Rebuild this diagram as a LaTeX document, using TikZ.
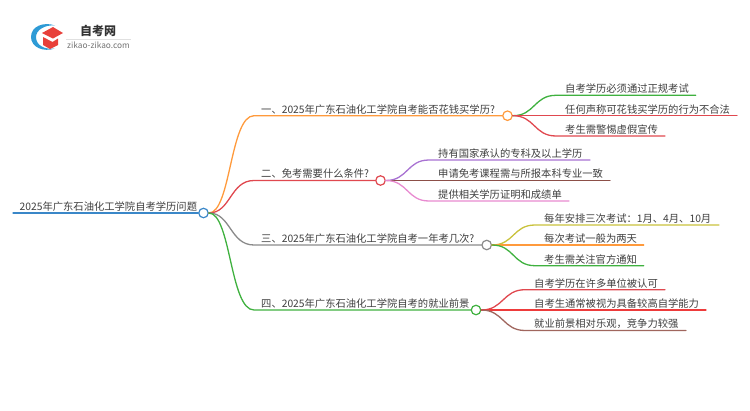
\documentclass[tikz,border=0pt]{standalone}
\usepackage{fontspec}
\setmainfont{Noto Sans CJK SC}
\definecolor{txt}{HTML}{3E3E3E}
\definecolor{cblue}{HTML}{3A87C8}
\definecolor{corange}{HTML}{FF9A3C}
\definecolor{cred}{HTML}{E0484F}
\definecolor{cgray}{HTML}{8A8A8A}
\definecolor{cgreen}{HTML}{3FB13F}
\definecolor{cpurple}{HTML}{A872D2}
\definecolor{cbrown}{HTML}{8C4F48}
\definecolor{cpink}{HTML}{E88AD0}
\definecolor{colive}{HTML}{C9C23C}
\definecolor{cbright}{HTML}{EE3B3B}
\definecolor{ctan}{HTML}{A0665E}
\definecolor{logoblue}{HTML}{2E9BD6}
\definecolor{logored}{HTML}{E8403A}
\tikzset{
  x=1pt,y=-1pt,
  lbl/.style={anchor=base west,inner sep=0pt,font=\fontsize{10.3}{12}\selectfont,text=txt},
  hub/.style={circle,draw=#1,fill=white,line width=1.2pt,minimum size=9.5pt,inner sep=0pt},
  wire/.style={draw=#1,line width=1.3pt,line cap=round},
}
\begin{document}
\begin{tikzpicture}
\useasboundingbox (0,0) rectangle (750,410);
% logo
\fill[logoblue] (55,25.5) .. controls (44,21.5) and (31,26) .. (31,37) .. controls (31,47) and (43,52.5) .. (55,48.5) .. controls (44,50) and (36,45) .. (36,37) .. controls (36,30) and (45,24.5) .. (55,25.5) -- cycle;
\fill[logored] (53,27) -- (63,33) -- (53,38.5) -- (42,33) -- cycle;
\fill[logored] (43,37) -- (52.5,42) -- (58,38.5) -- (58,45) -- (50,49) -- (43,45) -- cycle;
\node[inner sep=0pt,font=\fontsize{12}{13}\selectfont\bfseries,text=black!80] (brand) at (98,31) {自考网};
\node[inner sep=0pt,font=\fontsize{8.3}{9}\selectfont,text=black!55] (site) at (98.5,45) {zikao-zikao.com};
\draw[black!12,line width=.6pt] (66,39) -- (131,39);
% hubs
\node[hub=cblue] (root) at (203.5,213) {};
\node[hub=corange] (n1) at (507.5,115.7) {};
\node[hub=cred] (n2) at (380.5,180.5) {};
\node[hub=cgray] (n3) at (486.7,245) {};
\node[hub=cgreen] (n4) at (476,310) {};
% anchors
\coordinate (r0) at (13,213);
\coordinate (a1) at (254,115.7);
\coordinate (a2) at (254,180.5);
\coordinate (a3) at (254,245);
\coordinate (a4) at (254,310);
\coordinate (l11s) at (556,95.3); \coordinate (l11) at (695.7,95.3);
\coordinate (l12s) at (556,115.7); \coordinate (l12) at (737,115.7);
\coordinate (l13s) at (556,136); \coordinate (l13) at (665,136);
\coordinate (l21s) at (429,160); \coordinate (l21) at (590,160);
\coordinate (l22s) at (429,180.5); \coordinate (l22) at (610,180.5);
\coordinate (l23s) at (429,201); \coordinate (l23) at (569,201);
\coordinate (l31s) at (535,225); \coordinate (l31) at (719,225);
\coordinate (l32s) at (535,245); \coordinate (l32) at (643.7,245);
\coordinate (l33s) at (535,265.7); \coordinate (l33) at (643.7,265.7);
\coordinate (l41s) at (525,289.7); \coordinate (l41) at (665,289.7);
\coordinate (l42s) at (525,310); \coordinate (l42) at (706,310);
\coordinate (l43s) at (525,330.5); \coordinate (l43) at (686,330.5);
% connectors
\draw[wire=cblue] (r0) -- (root.west);
\draw[wire=corange] (root.east) .. controls +(22,0) and +(-24,0) .. (a1) -- (n1.west);
\draw[wire=cred] (root.east) .. controls +(22,0) and +(-24,0) .. (a2) -- (n2.west);
\draw[wire=cgray] (root.east) .. controls +(22,0) and +(-24,0) .. (a3) -- (n3.west);
\draw[wire=cgreen] (root.east) .. controls +(22,0) and +(-24,0) .. (a4) -- (n4.west);
\draw[wire=cgreen] (n1.east) .. controls +(22,0) and +(-22,0) .. (l11s) -- (l11);
\draw[wire=cred] (n1.east) -- (l12s) -- (l12);
\draw[wire=cred] (n1.east) .. controls +(22,0) and +(-22,0) .. (l13s) -- (l13);
\draw[wire=cpurple] (n2.east) .. controls +(22,0) and +(-22,0) .. (l21s) -- (l21);
\draw[wire=cbrown] (n2.east) -- (l22s) -- (l22);
\draw[wire=cpink] (n2.east) .. controls +(22,0) and +(-22,0) .. (l23s) -- (l23);
\draw[wire=colive] (n3.east) .. controls +(22,0) and +(-22,0) .. (l31s) -- (l31);
\draw[wire=corange] (n3.east) -- (l32s) -- (l32);
\draw[wire=cgreen] (n3.east) .. controls +(22,0) and +(-22,0) .. (l33s) -- (l33);
\draw[wire=cred] (n4.east) .. controls +(22,0) and +(-22,0) .. (l41s) -- (l41);
\draw[wire=cbright] (n4.east) -- (l42s) -- (l42);
\draw[wire=ctan] (n4.east) .. controls +(22,0) and +(-22,0) .. (l43s) -- (l43);
% labels
\node[lbl] (troot) at (19.5,210.3) {2025年广东石油化工学院自考学历问题};
\node[lbl] (t1) at (261,113) {一、2025年广东石油化工学院自考能否花钱买学历?};
\node[lbl] (t2) at (261,177.8) {二、免考需要什么条件?};
\node[lbl] (t3) at (261,242.3) {三、2025年广东石油化工学院自考一年考几次?};
\node[lbl] (t4) at (261,307.3) {四、2025年广东石油化工学院自考的就业前景};
\node[lbl] (t11) at (565,92.6) {自考学历必须通过正规考试};
\node[lbl] (t12) at (565,113) {任何声称可花钱买学历的行为不合法};
\node[lbl] (t13) at (565,133.3) {考生需警惕虚假宣传};
\node[lbl] (t21) at (438,157.3) {持有国家承认的专科及以上学历};
\node[lbl] (t22) at (438,177.8) {申请免考课程需与所报本科专业一致};
\node[lbl] (t23) at (438,198.3) {提供相关学历证明和成绩单};
\node[lbl] (t31) at (544,222.3) {每年安排三次考试^^^^ff1a1月、4月、10月};
\node[lbl] (t32) at (544,242.3) {每次考试一般为两天};
\node[lbl] (t33) at (544,263) {考生需关注官方通知};
\node[lbl] (t41) at (534,287) {自考学历在许多单位被认可};
\node[lbl] (t42) at (534,307.3) {自考生通常被视为具备较高自学能力};
\node[lbl] (t43) at (534,327.8) {就业前景相对乐观^^^^ff0c竞争力较强};
\end{tikzpicture}
\end{document}
